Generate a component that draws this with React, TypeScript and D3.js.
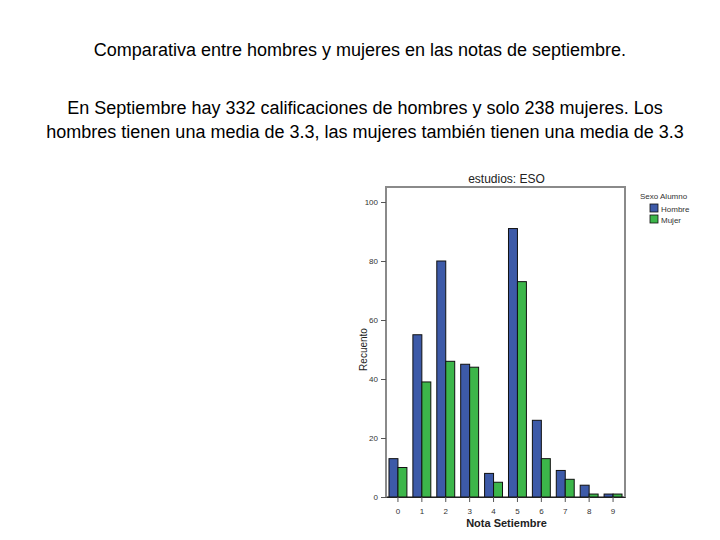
import { useEffect, useRef } from 'react';
import * as d3 from 'd3';

// Notes 0..9 and the counts for each sex
const grades = ['0', '1', '2', '3', '4', '5', '6', '7', '8', '9'];
const hombre = [13, 55, 80, 45, 8, 91, 26, 9, 4, 1];
const mujer = [10, 39, 46, 44, 5, 73, 13, 6, 1, 1];
const seriesNames = ['Hombre', 'Mujer'];
const yTicks = [0, 20, 40, 60, 80, 100];

const colors: Record<string, string> = {
  Hombre: '#3d5aa8',
  Mujer: '#3cb64a',
};

const App = () => {
  const ref = useRef<SVGSVGElement | null>(null);

  useEffect(() => {
    if (!ref.current) return;
    const svg = d3.select(ref.current);
    svg.selectAll('*').remove();

    const font = '"Liberation Sans", Arial, sans-serif';

    // Heading text
    svg.append('text')
      .attr('x', 360).attr('y', 56)
      .attr('text-anchor', 'middle')
      .style('font-family', font).style('font-size', '18px')
      .text('Comparativa entre hombres y mujeres en las notas de septiembre.');

    const para = [
      'En Septiembre hay 332 calificaciones de hombres y solo 238 mujeres. Los',
      'hombres tienen una media de 3.3, las mujeres también tienen una media de 3.3',
    ];
    para.forEach((t, i) => {
      svg.append('text')
        .attr('x', 365).attr('y', 114 + i * 24)
        .attr('text-anchor', 'middle')
        .style('font-family', font).style('font-size', '18px')
        .text(t);
    });

    // Chart frame
    const frame = { left: 386, right: 625, top: 187, bottom: 497 };

    const x = d3.scaleBand<string>()
      .domain(grades)
      .range([frame.left, frame.right])
      .paddingInner(0.25)
      .paddingOuter(0.125);

    const xSub = d3.scaleBand<string>()
      .domain(seriesNames)
      .range([0, x.bandwidth()]);

    const y = d3.scaleLinear()
      .domain([0, 100])
      .range([frame.bottom, 202]);

    svg.append('rect')
      .attr('x', frame.left).attr('y', frame.top)
      .attr('width', frame.right - frame.left)
      .attr('height', frame.bottom - frame.top)
      .attr('fill', 'none')
      .attr('stroke', '#8a8a8a')
      .attr('stroke-width', 2);

    svg.append('text')
      .attr('x', (frame.left + frame.right) / 2 + 1).attr('y', 183)
      .attr('text-anchor', 'middle')
      .style('font-family', font).style('font-size', '12px')
      .attr('fill', '#222')
      .text('estudios: ESO');

    // Bars
    const rows = grades.map((g, i) => ({ g, Hombre: hombre[i], Mujer: mujer[i] }));
    const groups = svg.append('g').selectAll('g')
      .data(rows)
      .enter().append('g')
      .attr('transform', d => `translate(${x(d.g)},0)`);

    groups.selectAll('rect')
      .data(d => seriesNames.map(s => ({ s, v: (d as any)[s] as number })))
      .enter().append('rect')
      .attr('x', d => xSub(d.s) || 0)
      .attr('y', d => y(d.v))
      .attr('width', xSub.bandwidth())
      .attr('height', d => y(0) - y(d.v))
      .attr('fill', d => colors[d.s])
      .attr('stroke', '#111')
      .attr('stroke-width', 1);

    // Y axis
    const yAxis = svg.append('g')
      .attr('transform', `translate(${frame.left},0)`)
      .call(d3.axisLeft(y).tickValues(yTicks).tickSize(5).tickSizeOuter(0));
    yAxis.select('.domain').remove();
    yAxis.selectAll('line').attr('stroke', '#555');
    yAxis.selectAll('text')
      .style('font-family', font).style('font-size', '8px').attr('fill', '#333');

    // X axis
    const xAxis = svg.append('g')
      .attr('transform', `translate(0,${frame.bottom})`)
      .call(d3.axisBottom(x).tickSize(5).tickSizeOuter(0));
    xAxis.select('.domain').attr('stroke', '#222');
    xAxis.selectAll('line').attr('stroke', '#555');
    xAxis.selectAll('text')
      .style('font-family', font).style('font-size', '8px').attr('fill', '#333')
      .attr('dy', '1.1em');

    svg.append('text')
      .attr('x', (frame.left + frame.right) / 2 + 1).attr('y', 527)
      .attr('text-anchor', 'middle')
      .style('font-family', font).style('font-size', '11px').style('font-weight', 'bold')
      .attr('fill', '#222')
      .text('Nota Setiembre');

    svg.append('text')
      .attr('transform', `translate(367,${(y(40) + y(60)) / 2}) rotate(-90)`)
      .attr('text-anchor', 'middle')
      .style('font-family', font).style('font-size', '10px')
      .attr('fill', '#222')
      .text('Recuento');

    // Legend
    const legend = svg.append('g').attr('transform', 'translate(640,199)');
    legend.append('text')
      .attr('x', 0).attr('y', 0)
      .style('font-family', font).style('font-size', '8px').attr('fill', '#333')
      .text('Sexo Alumno');
    seriesNames.forEach((s, i) => {
      const item = legend.append('g').attr('transform', `translate(10,${5 + i * 11})`);
      item.append('rect')
        .attr('width', 8).attr('height', 8)
        .attr('fill', colors[s]).attr('stroke', '#111').attr('stroke-width', 0.8);
      item.append('text')
        .attr('x', 11).attr('y', 7.5)
        .style('font-family', font).style('font-size', '8px').attr('fill', '#333')
        .text(s);
    });

    return () => {
      svg.selectAll('*').remove();
    };
  }, []);

  return (
    <svg
      ref={ref}
      width={720}
      height={540}
      style={{ position: 'absolute', left: 0, top: 0, background: '#fff' }}
    />
  );
};

export default App;
